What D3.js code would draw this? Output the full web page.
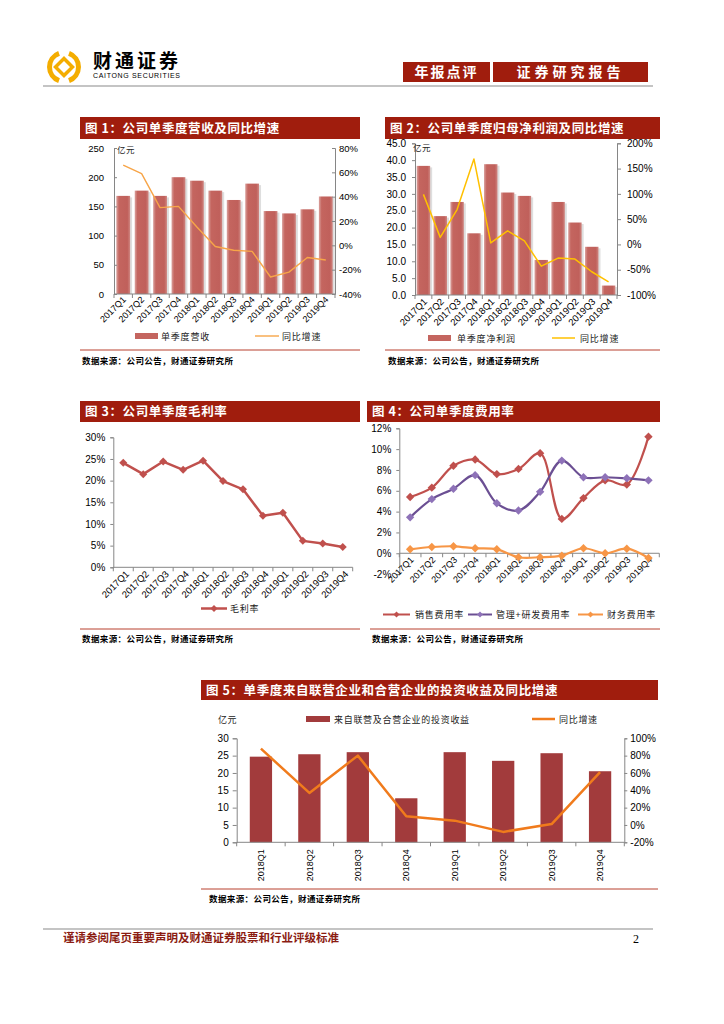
<!DOCTYPE html>
<html>
<head>
<meta charset="utf-8">
<script src="https://cdn.jsdelivr.net/npm/d3@7"></script>
<style>
  body { margin: 0; background: #fff; }
  .cn { font-family: "Noto Sans CJK SC", sans-serif; }
</style>
</head>
<body>
<script>

// quarters used by charts 1-4
var quarters = ["2017Q1","2017Q2","2017Q3","2017Q4","2018Q1","2018Q2","2018Q3","2018Q4","2019Q1","2019Q2","2019Q3","2019Q4"];
// chart 5 quarters
var quarters8 = ["2018Q1","2018Q2","2018Q3","2018Q4","2019Q1","2019Q2","2019Q3","2019Q4"];

// fig 1: revenue (亿元) and yoy (%)
var revenue = [168, 177, 168, 200, 194, 177, 161, 189, 142, 138, 145, 167];
var revenueYoy = [66, 59, 31, 32, 15, -1, -4, -5, -26, -22, -10, -12];
var revenueTicks = [0, 50, 100, 150, 200, 250];
var revenueYoyTicks = [-40, -20, 0, 20, 40, 60, 80];

// fig 2: net profit (亿元) and yoy (%)
var profit = [38.3, 23.4, 27.6, 18.3, 38.8, 30.4, 29.4, 10.4, 27.6, 21.5, 14.3, 2.8];
var profitYoy = [99, 14, 69, 169, 3, 27, 7, -43, -27, -29, -54, -74];
var profitTicks = [0, 5, 10, 15, 20, 25, 30, 35, 40, 45];
var profitYoyTicks = [-100, -50, 0, 50, 100, 150, 200];

// fig 3: gross margin (%)
var grossMargin = [24.1, 21.5, 24.4, 22.5, 24.6, 19.9, 18.0, 11.9, 12.6, 6.1, 5.5, 4.7];
var marginTicks = [0, 5, 10, 15, 20, 25, 30];

// fig 4: expense ratios (%)
var sellingRate = [5.4, 6.3, 8.4, 9.0, 7.6, 8.1, 9.6, 3.3, 5.3, 7.0, 6.6, 11.2];
var adminRdRate = [3.45, 5.2, 6.2, 7.5, 4.8, 4.1, 5.9, 8.9, 7.3, 7.3, 7.2, 7.0];
var financeRate = [0.38, 0.6, 0.67, 0.48, 0.38, -0.38, -0.38, -0.23, 0.48, 0.0, 0.44, -0.45];
var expenseTicks = [-2, 0, 2, 4, 6, 8, 10, 12];

// fig 5: investment income from associates (亿元) and yoy (%)
var investIncome = [24.7, 25.4, 26.0, 12.7, 26.0, 23.5, 25.7, 20.5];
var investYoy = [88, 37, 80, 10, 5, -8, 1, 61];
var investTicks = [0, 5, 10, 15, 20, 25, 30];
var investYoyTicks = [-20, 0, 20, 40, 60, 80, 100];

var NUM_FONT = "'Liberation Sans', Arial, sans-serif";
var AXIS = "#868686";
var TITLE_RED = "#a01d0d";

var svg = d3.select("body").append("svg")
  .attr("width", 724)
  .attr("height", 1024)
  .style("display", "block");

var defs = svg.append("defs");
var grad = defs.append("linearGradient").attr("id", "barGrad");
[[0, "#daa29e"], [0.2, "#c4655f"], [0.8, "#c0605b"], [1, "#cf8681"]].forEach(function(s) {
  grad.append("stop").attr("offset", s[0]).attr("stop-color", s[1]);
});

// ---------- page header / footer ----------

// logo (simplified emblem)
var logo = svg.append("g").attr("transform", "translate(64,67)");
logo.append("path")
  .attr("d", d3.arc()({innerRadius: 12, outerRadius: 17, startAngle: 0.35, endAngle: Math.PI - 0.35}))
  .attr("fill", "#f4ad00");
logo.append("path")
  .attr("d", d3.arc()({innerRadius: 12, outerRadius: 17, startAngle: Math.PI + 0.35, endAngle: 2 * Math.PI - 0.35}))
  .attr("fill", "#f4ad00");
logo.append("rect")
  .attr("x", -6).attr("y", -6).attr("width", 12).attr("height", 12)
  .attr("transform", "rotate(45)")
  .attr("fill", "none").attr("stroke", "#f4ad00").attr("stroke-width", 3.5);

svg.append("text").attr("class", "cn")
  .attr("x", 93).attr("y", 68)
  .attr("font-size", 19).attr("font-weight", "bold").attr("letter-spacing", 3)
  .text("财通证券");
svg.append("text")
  .attr("x", 93).attr("y", 78)
  .attr("font-family", NUM_FONT).attr("font-size", 7)
  .attr("textLength", 87)
  .text("CAITONG SECURITIES");

svg.append("rect").attr("x", 403).attr("y", 62).attr("width", 87).attr("height", 20).attr("fill", TITLE_RED);
svg.append("rect").attr("x", 493).attr("y", 62).attr("width", 155).attr("height", 20).attr("fill", TITLE_RED);
svg.append("text").attr("class", "cn")
  .attr("x", 446.5).attr("y", 72).attr("dy", "0.36em").attr("text-anchor", "middle")
  .attr("fill", "#fff").attr("font-size", 14).attr("font-weight", "bold").attr("letter-spacing", 2)
  .text("年报点评");
svg.append("text").attr("class", "cn")
  .attr("x", 570.5).attr("y", 72).attr("dy", "0.36em").attr("text-anchor", "middle")
  .attr("fill", "#fff").attr("font-size", 14).attr("font-weight", "bold").attr("letter-spacing", 4)
  .text("证券研究报告");

svg.append("line").attr("x1", 43).attr("x2", 653).attr("y1", 86).attr("y2", 86)
  .attr("stroke", "#c4c4c4").attr("stroke-width", 2);
svg.append("line").attr("x1", 43).attr("x2", 653).attr("y1", 929).attr("y2", 929)
  .attr("stroke", "#c4c4c4").attr("stroke-width", 2);
svg.append("text").attr("class", "cn")
  .attr("x", 63).attr("y", 942)
  .attr("fill", "#8b1c12").attr("font-size", 11.5).attr("font-weight", "bold")
  .text("谨请参阅尾页重要声明及财通证券股票和行业评级标准");
svg.append("text")
  .attr("x", 633).attr("y", 943)
  .attr("font-family", "'Liberation Serif', serif").attr("font-size", 12)
  .text("2");

// ---------- helpers ----------

function titleBar(x, y, w, h, label) {
  svg.append("rect").attr("x", x).attr("y", y).attr("width", w).attr("height", h).attr("fill", TITLE_RED);
  svg.append("text").attr("class", "cn")
    .attr("x", x + 5).attr("y", y + h / 2).attr("dy", "0.36em")
    .attr("fill", "#fff").attr("font-size", 12.5).attr("font-weight", "bold").attr("letter-spacing", 0.6)
    .text(label);
}

function sourceNote(x1, x2, y, tx, ty) {
  svg.append("line").attr("x1", x1).attr("x2", x2).attr("y1", y).attr("y2", y)
    .attr("stroke", "#b8402f").attr("stroke-width", 1);
  svg.append("text").attr("class", "cn")
    .attr("x", tx).attr("y", ty)
    .attr("font-size", 8.5).attr("font-weight", "bold").attr("letter-spacing", 0.4)
    .text("数据来源：公司公告，财通证券研究所");
}

function cnText(x, y, label, size, spacing) {
  return svg.append("text").attr("class", "cn")
    .attr("x", x).attr("y", y)
    .attr("font-size", size || 9).attr("letter-spacing", spacing || 0.8)
    .attr("fill", "#222")
    .text(label);
}

function diamond(sel, cx, cy, r, color) {
  sel.append("path")
    .attr("d", "M" + cx + "," + (cy - r) + "L" + (cx + r) + "," + cy + "L" + cx + "," + (cy + r) + "L" + (cx - r) + "," + cy + "Z")
    .attr("fill", color);
}

function yAxis(gen, x, fs) {
  var g = svg.append("g").attr("transform", "translate(" + x + ",0)").call(gen);
  g.attr("font-family", NUM_FONT).attr("font-size", fs);
  g.select(".domain").attr("stroke", AXIS);
  g.selectAll(".tick line").attr("stroke", AXIS);
  g.selectAll(".tick text").attr("fill", "#000");
  return g;
}

// category axis: line, boundary ticks, rotated labels
function bandAxis(x, yPos, angle, fs, ax, ay) {
  var g = svg.append("g").attr("transform", "translate(0," + yPos + ")");
  var r = x.range(), n = x.domain().length, step = (r[1] - r[0]) / n;
  g.append("line").attr("x1", r[0]).attr("x2", r[1]).attr("stroke", AXIS);
  d3.range(n + 1).forEach(function(i) {
    g.append("line").attr("x1", r[0] + i * step).attr("x2", r[0] + i * step)
      .attr("y1", 0).attr("y2", 4).attr("stroke", AXIS);
  });
  g.selectAll("text.xl").data(x.domain()).join("text")
    .attr("class", "xl")
    .attr("transform", function(d) {
      return "translate(" + (x(d) + x.bandwidth() / 2 + ax) + "," + ay + ") rotate(" + angle + ")";
    })
    .attr("text-anchor", "end")
    .attr("dy", "0.35em")
    .attr("font-family", NUM_FONT).attr("font-size", fs)
    .text(function(d) { return d; });
}

function shadedBars(x, y, values, fill) {
  var g = svg.append("g");
  g.selectAll("rect.sh").data(values).join("rect")
    .attr("class", "sh")
    .attr("x", function(d, i) { return x(x.domain()[i]) + 2; })
    .attr("y", function(d) { return y(d) + 1.5; })
    .attr("width", x.bandwidth())
    .attr("height", function(d) { return y(0) - y(d) - 1.5; })
    .attr("fill", "#dedede");
  g.selectAll("rect.bar").data(values).join("rect")
    .attr("class", "bar")
    .attr("x", function(d, i) { return x(x.domain()[i]); })
    .attr("y", function(d) { return y(d); })
    .attr("width", x.bandwidth())
    .attr("height", function(d) { return y(0) - y(d); })
    .attr("fill", fill);
}

function linePath(x, y, values, color, width, curve) {
  var line = d3.line()
    .x(function(d, i) { return x(x.domain()[i]) + x.bandwidth() / 2; })
    .y(function(d) { return y(d); });
  if (curve) line.curve(curve);
  svg.append("path").datum(values)
    .attr("d", line)
    .attr("fill", "none")
    .attr("stroke", color)
    .attr("stroke-width", width)
    .attr("stroke-linejoin", "round");
}

function markers(x, y, values, color, r) {
  var g = svg.append("g");
  values.forEach(function(v, i) {
    diamond(g, x(x.domain()[i]) + x.bandwidth() / 2, y(v), r, color);
  });
}

// ---------- figure 1 ----------
titleBar(80, 117, 280, 22, "图 1：公司单季度营收及同比增速");

var x1 = d3.scaleBand().domain(quarters).range([114, 335]).paddingInner(0.25).paddingOuter(0.125);
var y1 = d3.scaleLinear().domain([0, 250]).range([294, 148]);
var y1r = d3.scaleLinear().domain([-40, 80]).range([294, 148]);

shadedBars(x1, y1, revenue, "url(#barGrad)");
yAxis(d3.axisLeft(y1).tickValues(revenueTicks).tickSize(-3).tickPadding(10), 114, 9.5);
yAxis(d3.axisRight(y1r).tickValues(revenueYoyTicks).tickSize(-3).tickPadding(4)
  .tickFormat(function(d) { return d + "%"; }), 335, 9.5);
bandAxis(x1, 294, -45, 9, 1, 4);
linePath(x1, y1r, revenueYoy, "#f7a548", 1.4);
cnText(117, 153, "亿元", 8.5, 0.5);

svg.append("rect").attr("x", 135).attr("y", 333).attr("width", 23).attr("height", 6).attr("fill", "#c4655f");
cnText(161, 339.5, "单季度营收");
svg.append("line").attr("x1", 255).attr("x2", 279).attr("y1", 336).attr("y2", 336).attr("stroke", "#f7a548").attr("stroke-width", 1.4);
cnText(282, 339.5, "同比增速");
sourceNote(80, 360, 350, 82, 364);

// ---------- figure 2 ----------
titleBar(385, 117, 275, 22, "图 2：公司单季度归母净利润及同比增速");

var x2 = d3.scaleBand().domain(quarters).range([415, 617]).paddingInner(0.2).paddingOuter(0.1);
var y2 = d3.scaleLinear().domain([0, 45]).range([295, 143.3]);
var y2r = d3.scaleLinear().domain([-100, 200]).range([295, 143.3]);

shadedBars(x2, y2, profit, "url(#barGrad)");
yAxis(d3.axisLeft(y2).tickValues(profitTicks).tickSize(3).tickPadding(6).tickFormat(d3.format(".1f")), 415, 10);
yAxis(d3.axisRight(y2r).tickValues(profitYoyTicks).tickSize(4).tickPadding(6)
  .tickFormat(function(d) { return d + "%"; }), 617, 10);
bandAxis(x2, 295, -45, 9.5, 2, 5);
linePath(x2, y2r, profitYoy, "#ffc000", 1.5);
cnText(413, 151, "亿元", 8.5, 0.5);

svg.append("rect").attr("x", 428).attr("y", 335).attr("width", 23).attr("height", 6).attr("fill", "#c4655f");
cnText(457, 341.5, "单季度净利润");
svg.append("line").attr("x1", 552).attr("x2", 575).attr("y1", 338).attr("y2", 338).attr("stroke", "#ffc000").attr("stroke-width", 1.5);
cnText(580, 341.5, "同比增速");
sourceNote(385, 660, 350, 388, 364);

// ---------- figure 3 ----------
titleBar(80, 401, 280, 21, "图 3：公司单季度毛利率");

var x3 = d3.scaleBand().domain(quarters).range([113.3, 352.7]).paddingInner(0).paddingOuter(0);
var y3 = d3.scaleLinear().domain([0, 30]).range([567.3, 437.3]);

yAxis(d3.axisLeft(y3).tickValues(marginTicks).tickSize(3).tickPadding(5)
  .tickFormat(function(d) { return d + "%"; }), 113.3, 10);
bandAxis(x3, 567.3, -45, 9.5, 4, 5);
linePath(x3, y3, grossMargin, "#c0504d", 2.5);
markers(x3, y3, grossMargin, "#c0504d", 4);

svg.append("line").attr("x1", 201).attr("x2", 227).attr("y1", 608.5).attr("y2", 608.5).attr("stroke", "#c0504d").attr("stroke-width", 2.5);
diamond(svg, 214, 608.5, 3.5, "#c0504d");
cnText(230, 612, "毛利率");
sourceNote(80, 360, 629, 82, 642);

// ---------- figure 4 ----------
titleBar(367, 401, 293, 21, "图 4：公司单季度费用率");

var x4 = d3.scaleBand().domain(quarters).range([399.3, 659.3]).paddingInner(0).paddingOuter(0);
var y4 = d3.scaleLinear().domain([-2, 12]).range([574.1, 428.3]);

yAxis(d3.axisLeft(y4).tickValues(expenseTicks).tickSize(3).tickPadding(5)
  .tickFormat(function(d) { return d + "%"; }), 399.3, 10);
bandAxis(x4, y4(0), -45, 9, 2, 5);

var smooth = d3.curveCatmullRom.alpha(0.5);
linePath(x4, y4, sellingRate, "#c0504d", 2.2, smooth);
markers(x4, y4, sellingRate, "#c0504d", 4.2);
linePath(x4, y4, adminRdRate, "#6b4f93", 2.2, smooth);
markers(x4, y4, adminRdRate, "#8e72b8", 4.2);
linePath(x4, y4, financeRate, "#f79646", 2.2, smooth);
markers(x4, y4, financeRate, "#f79646", 4.2);

svg.append("line").attr("x1", 383).attr("x2", 410).attr("y1", 614.5).attr("y2", 614.5).attr("stroke", "#c0504d").attr("stroke-width", 2);
diamond(svg, 396.5, 614.5, 3, "#c0504d");
cnText(415, 618, "销售费用率");
svg.append("line").attr("x1", 468).attr("x2", 492).attr("y1", 614.5).attr("y2", 614.5).attr("stroke", "#6b4f93").attr("stroke-width", 2);
diamond(svg, 480, 614.5, 3, "#8e72b8");
cnText(496, 618, "管理+研发费用率");
svg.append("line").attr("x1", 578).attr("x2", 603).attr("y1", 614.5).attr("y2", 614.5).attr("stroke", "#f79646").attr("stroke-width", 2);
diamond(svg, 590.5, 614.5, 3, "#f79646");
cnText(607, 618, "财务费用率");
sourceNote(370, 660, 629, 372, 642);

// ---------- figure 5 ----------
titleBar(201, 680, 457, 20, "图 5：单季度来自联营企业和合营企业的投资收益及同比增速");

var x5 = d3.scaleBand().domain(quarters8).range([236.7, 624.3]).paddingInner(0.54).paddingOuter(0.27);
var y5 = d3.scaleLinear().domain([0, 30]).range([842.3, 738.3]);
var y5r = d3.scaleLinear().domain([-20, 100]).range([842.3, 738.3]);

svg.append("g").selectAll("rect").data(investIncome).join("rect")
  .attr("x", function(d, i) { return x5(quarters8[i]); })
  .attr("y", function(d) { return y5(d); })
  .attr("width", x5.bandwidth())
  .attr("height", function(d) { return y5(0) - y5(d); })
  .attr("fill", "#a23b3c");
yAxis(d3.axisLeft(y5).tickValues(investTicks).tickSize(4).tickPadding(4), 236.7, 10);
yAxis(d3.axisRight(y5r).tickValues(investYoyTicks).tickSize(3).tickPadding(3)
  .tickFormat(function(d) { return d + "%"; }), 624.3, 10);
bandAxis(x5, 842.3, -90, 9, 0, 7);
linePath(x5, y5r, investYoy, "#f07b1c", 2.5);

cnText(218, 723, "亿元", 9, 0.5);
svg.append("rect").attr("x", 306).attr("y", 716).attr("width", 24).attr("height", 6).attr("fill", "#a23b3c");
cnText(334, 723, "来自联营及合营企业的投资收益", 9, 0.7);
svg.append("line").attr("x1", 532).attr("x2", 555).attr("y1", 719).attr("y2", 719).attr("stroke", "#f07b1c").attr("stroke-width", 2.5);
cnText(559, 723, "同比增速", 9, 0.7);
sourceNote(201, 658, 889, 209, 902);

</script>
</body>
</html>
